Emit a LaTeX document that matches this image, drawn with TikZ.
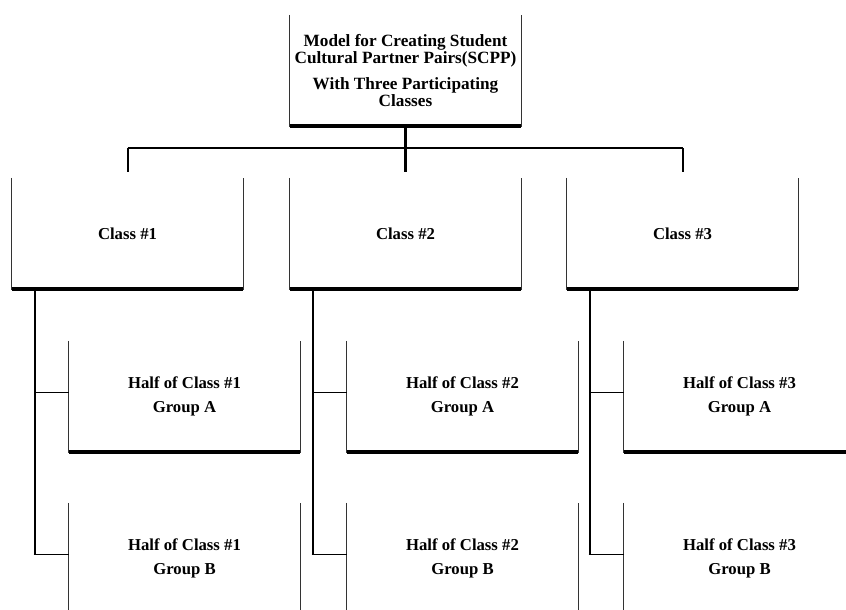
\documentclass[tikz,border=0pt]{standalone}
\usepackage{fontspec}
\setmainfont{Liberation Serif}
\begin{document}
\begin{tikzpicture}[x=1pt,y=-1pt,
  box/.style={minimum width=231pt, minimum height=111pt, inner sep=0pt, align=center,
    font=\bfseries\fontsize{16.7}{24}\selectfont},
  side/.style={line width=1.2pt, draw=black!80},
  base/.style={line width=4.5pt},
  trunk/.style={line width=2.6pt},
  twig/.style={line width=1.5pt},
  bar/.style={line width=2pt}]
\clip (0,0) rectangle (846,610);
\fill[white] (0,0) rectangle (846,610);

% boxes
\node[box, font=\bfseries\fontsize{17.2}{17.5}\selectfont] (top) at (405.5,70.5)
  {Model for Creating Student\\Cultural Partner Pairs(SCPP)\\[8pt]With Three Participating\\Classes};
\node[box] (c1) at (127.5,233.5) {Class \#1};
\node[box] (c2) at (405.5,233.5) {Class \#2};
\node[box] (c3) at (682.5,233.5) {Class \#3};
\node[box] (a1) at (184.5,396.5) {Half of Class \#1\\Group A};
\node[box] (a2) at (462.5,396.5) {Half of Class \#2\\Group A};
\node[box] (a3) at (739.5,396.5) {Half of Class \#3\\Group A};
\node[box] (b1) at (184.5,558.5) {Half of Class \#1\\Group B};
\node[box] (b2) at (462.5,558.5) {Half of Class \#2\\Group B};
\node[box] (b3) at (739.5,558.5) {Half of Class \#3\\Group B};

\foreach \n in {top,c1,c2,c3,a1,a2,a3,b1,b2,b3}{
  \draw[side] (\n.north west) -- (\n.south west) -- (\n.south east) -- (\n.north east);
  \draw[base] (\n.south west) -- (\n.south east);
}

% top connectors
\coordinate (hub) at (405.5,172);
\coordinate (barc) at (405.5,148);
\draw[trunk] (top.south) -- (hub);
\draw[bar] (c1.north |- barc) -- (c3.north |- barc);
\draw[bar] (c1.north |- barc) -- (c1.north |- hub);
\draw[bar] (c3.north |- barc) -- (c3.north |- hub);

% class to group connectors
\foreach \c/\a/\b in {c1/a1/b1,c2/a2/b2,c3/a3/b3}{
  \coordinate (t\c) at ([xshift=23pt]\c.south west);
  \coordinate (ja\c) at ([yshift=4pt]\a.west);
  \coordinate (jb\c) at ([yshift=4pt]\b.west);
  \draw[trunk] (t\c) -- (t\c |- jb\c);
  \draw[twig] (t\c |- ja\c) -- (ja\c);
  \draw[twig] ([xshift=-1.3pt]t\c |- jb\c) -- (jb\c);
}
\end{tikzpicture}
\end{document}
